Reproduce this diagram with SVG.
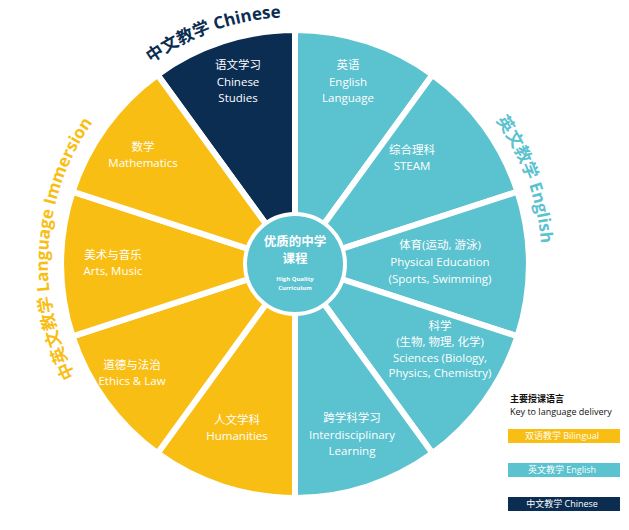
<svg xmlns="http://www.w3.org/2000/svg" xmlns:xlink="http://www.w3.org/1999/xlink" width="629" height="530" viewBox="0 0 629 530">
<style>
.s{stroke:#fff;stroke-width:6;stroke-linejoin:round}
.y{fill:#F9BE14}.t{fill:#5BC2CF}.d{fill:#0B2D52}
.l{font-family:"Open Sans","Noto Sans CJK SC",sans-serif;font-size:11.5px;fill:#fff;text-anchor:middle}
.h{font-family:"Open Sans","Noto Sans CJK SC",sans-serif;font-size:17px;font-weight:bold;text-anchor:middle}
.k{font-family:"Open Sans","Noto Sans CJK SC",sans-serif;font-size:9px;fill:#fff;text-anchor:middle}
</style>
<defs>
<path id="arc" d="M295,511 A247,247 0 1 1 295,17 A247,247 0 1 1 295,511" fill="none"/>
</defs>
<rect width="629" height="530" fill="#fff"/>
<g id="sectors">
<path id="chinese" class="s d" d="M295,264 L295,30 A234,234 0 0 0 157.5,74.7 Z"/>
<path id="english-lang" class="s t" d="M295,264 L295,30 A234,234 0 0 1 432.5,74.7 Z"/>
<path id="steam" class="s t" d="M295,264 L432.5,74.7 A234,234 0 0 1 517.5,191.7 Z"/>
<path id="pe" class="s t" d="M295,264 L517.5,191.7 A234,234 0 0 1 517.5,336.3 Z"/>
<path id="science" class="s t" d="M295,264 L517.5,336.3 A234,234 0 0 1 432.5,453.3 Z"/>
<path id="interdisciplinary" class="s t" d="M295,264 L432.5,453.3 A234,234 0 0 1 295,498 Z"/>
<path id="humanities" class="s y" d="M295,264 L295,498 A234,234 0 0 1 157.5,453.3 Z"/>
<path id="ethics" class="s y" d="M295,264 L157.5,453.3 A234,234 0 0 1 72.5,336.3 Z"/>
<path id="arts" class="s y" d="M295,264 L72.5,336.3 A234,234 0 0 1 72.5,191.7 Z"/>
<path id="math" class="s y" d="M295,264 L72.5,191.7 A234,234 0 0 1 157.5,74.7 Z"/>
</g>
<g id="center">
<circle cx="295" cy="264" r="50" fill="#5BC2CF" stroke="#fff" stroke-width="4"/>
<text class="l" x="295" y="246" style="font-size:12.5px;font-weight:bold">优质的中学</text>
<text class="l" x="295" y="263" style="font-size:12.5px;font-weight:bold">课程</text>
<text class="l" x="295" y="281" style="font-size:6px;font-weight:bold">High Quality</text>
<text class="l" x="295" y="290" style="font-size:6px;font-weight:bold">Curriculum</text>
</g>
<g id="labels">
<text class="l" x="238" y="69">语文学习</text><text class="l" x="238" y="86">Chinese</text><text class="l" x="238" y="102">Studies</text>
<text class="l" x="348" y="69">英语</text><text class="l" x="348" y="86">English</text><text class="l" x="348" y="102">Language</text>
<text class="l" x="412" y="154">综合理科</text><text class="l" x="412" y="170">STEAM</text>
<text class="l" x="440" y="249">体育(运动, 游泳)</text><text class="l" x="440" y="266">Physical Education</text><text class="l" x="440" y="283">(Sports, Swimming)</text>
<text class="l" x="440" y="330">科学</text><text class="l" x="440" y="346">(生物, 物理, 化学)</text><text class="l" x="440" y="362">Sciences (Biology,</text><text class="l" x="440" y="377">Physics, Chemistry)</text>
<text class="l" x="352" y="422">跨学科学习</text><text class="l" x="352" y="439">Interdisciplinary</text><text class="l" x="352" y="455">Learning</text>
<text class="l" x="237" y="424">人文学科</text><text class="l" x="237" y="440">Humanities</text>
<text class="l" x="132" y="369">道德与法治</text><text class="l" x="132" y="385">Ethics &amp; Law</text>
<text class="l" x="113" y="259">美术与音乐</text><text class="l" x="113" y="275">Arts, Music</text>
<text class="l" x="143" y="151">数学</text><text class="l" x="143" y="167">Mathematics</text>
</g>
<g id="titles">
<text class="h" fill="#0B2D52"><textPath href="#arc" startOffset="44.6%">中文教学 Chinese</textPath></text>
<text class="h" fill="#5BC2CF"><textPath href="#arc" startOffset="69.4%">英文教学 English</textPath></text>
<text class="h" fill="#F9BE14"><textPath href="#arc" startOffset="26.1%">中英文教学 Language Immersion</textPath></text>
</g>
<g id="legend">
<text x="510" y="402" style="font-family:'Noto Sans CJK SC',sans-serif;font-size:9px;font-weight:bold" fill="#111">主要授课语言</text>
<text x="510" y="415" style="font-family:'Open Sans',sans-serif;font-size:9px" fill="#111">Key to language delivery</text>
<rect x="508" y="429" width="112" height="14" class="y"/>
<text class="k" x="562" y="439">双语教学 Bilingual</text>
<rect x="508" y="463" width="112" height="14" class="t"/>
<text class="k" x="562" y="473">英文教学 English</text>
<rect x="508" y="497" width="112" height="14" class="d"/>
<text class="k" x="562" y="507">中文教学 Chinese</text>
</g>
</svg>
